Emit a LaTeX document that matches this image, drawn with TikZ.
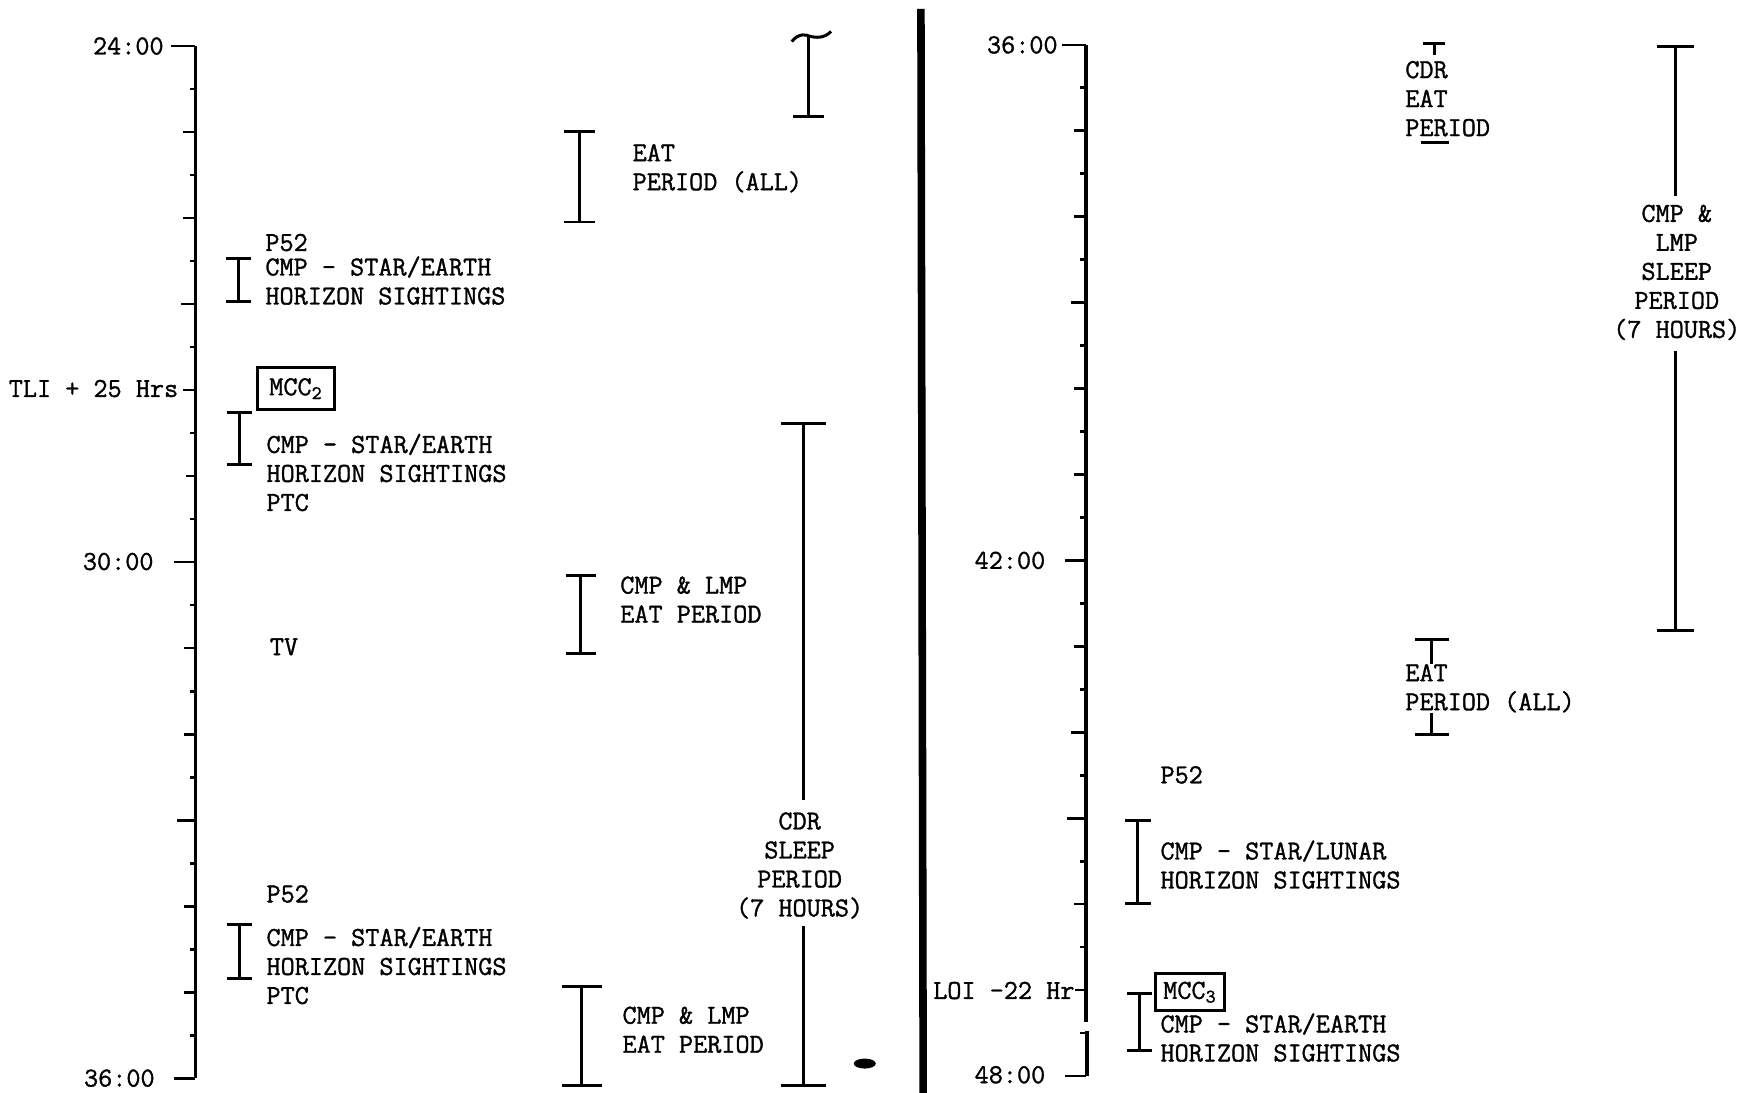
\documentclass[tikz,border=0pt]{standalone}
\usepackage{fontspec}
\setmonofont[FakeBold=1.2]{Latin Modern Mono}
\usetikzlibrary{arrows.meta}
\newcommand\twfont{\fontsize{15.6pt}{16.5pt}\selectfont\ttfamily}
\begin{document}
\begin{tikzpicture}[x=0.022462cm,y=-0.022462cm,
  lbl/.style={font=\twfont, inner sep=0pt},
  blk/.style={lbl, align=left, anchor=north west},
  ctr/.style={lbl, align=center, anchor=north},
  tim/.style={lbl, anchor=east},
  one/.style={lbl, anchor=west},
  axisline/.style={line width=1.9pt},
  tickline/.style={line width=1.6pt},
  ibar/.style={line width=1.7pt, {Bar[width=#1]}-{Bar[width=#1]}},
  ibar/.default=0.55cm,
  topbar/.style={line width=1.7pt, {Bar[width=#1]}-},
  botbar/.style={line width=1.7pt, -{Bar[width=#1]}},
  mccbox/.style={lbl, draw, line width=1.7pt}
]
\useasboundingbox (0,0) rectangle (1568,973);

% ---------- divider ----------
\coordinate (dv1) at (820,8);
\coordinate (dv2) at (822,973);
\draw[line width=4.3pt] (dv1) -- (dv2);

% ---------- left axis ----------
\coordinate (la0) at (174,41);
\coordinate (la1) at (174,960);
\draw[axisline] (la0) -- (la1);
\foreach \k/\l in {0/22,1/5,2/11,3/5,4/11,5/5,6/13,7/5,8/11,9/5,10/8,11/5,12/19,13/5,14/10,15/5,16/10,17/5,18/16,19/5,20/10,21/5,22/10,23/5,24/19}
  \draw[tickline] (174,41+38.29*\k) -- ++(-\l,0);

\node[tim] (l24) at (146,41) {24:00};
\node[tim] (ltli) at (159,346) {TLI + 25 Hrs};
\node[tim] (l30) at (137,500) {30:00};
\node[tim] (l36) at (138,960) {36:00};

% left column activities
\node[one] (p52a) at (236,216) {P52};
\node[blk] (t1) at (236,228) {CMP - STAR/EARTH\\HORIZON SIGHTINGS};
\coordinate (b1t) at (212,229); \coordinate (b1b) at (212,270);
\draw[ibar=0.5cm] (b1t) -- (b1b);

\node[mccbox, minimum width=1.55cm, minimum height=0.854cm] (mcc2) at (263.5,346) {MCC\textsubscript{2}};

\node[blk] (t2) at (237,386) {CMP - STAR/EARTH\\HORIZON SIGHTINGS\\PTC};
\coordinate (b2t) at (213,366); \coordinate (b2b) at (213,415);
\draw[ibar=0.5cm] (b2t) -- (b2b);

\node[one] (tv) at (240,576) {TV};

\node[one] (p52b) at (237,796) {P52};
\node[blk] (t3) at (237,825) {CMP - STAR/EARTH\\HORIZON SIGHTINGS\\PTC};
\coordinate (b3t) at (213,822); \coordinate (b3b) at (213,873);
\draw[ibar=0.5cm] (b3t) -- (b3b);

% middle column
\coordinate (b4t) at (720,32); \coordinate (b4b) at (720,105);
\draw[botbar=0.63cm] (b4t) -- (b4b);
\coordinate (w1) at (705,37); \coordinate (w2) at (740,28);
\draw[line width=1.7pt] (w1) .. controls (711,29) and (719,31) .. (b4t) .. controls (727,34) and (734,34) .. (w2);

\node[blk] (eat1) at (563,128) {EAT\\PERIOD (ALL)};
\coordinate (b5t) at (516,116); \coordinate (b5b) at (516,199);
\draw[ibar=0.63cm] (b5t) -- (b5b);

\node[blk] (cl1) at (552,513) {CMP \& LMP\\EAT PERIOD};
\coordinate (b7t) at (517,511); \coordinate (b7b) at (517,583);
\draw[ibar=0.6cm] (b7t) -- (b7b);

\node[ctr] (cdr) at (712,723) {CDR\\SLEEP\\PERIOD\\(7 HOURS)};
\coordinate (b6t) at (715,376); \coordinate (b6b) at (715,968);
\coordinate (c6a) at ([yshift=7pt]cdr.north);
\coordinate (c6b) at ([yshift=-4pt]cdr.south);
\draw[topbar=0.9cm] (b6t) -- (b6t |- c6a);
\draw[botbar=0.9cm] (b6b |- c6b) -- (b6b);

\node[blk] (cl2) at (554,896) {CMP \& LMP\\EAT PERIOD};
\coordinate (b8t) at (518,877); \coordinate (b8b) at (518,968);
\draw[ibar=0.8cm] (b8t) -- (b8b);

\coordinate (blob) at (770,947);
\fill (blob) ellipse [x radius=0.22cm, y radius=0.1cm];

% ---------- right axis ----------
\coordinate (ra0) at (967,40);
\coordinate (rag1) at (967,910);
\coordinate (rag2) at (968,918);
\coordinate (ra1) at (968,958);
\draw[axisline] (ra0) -- (rag1);
\draw[axisline] (rag2) -- (ra1);
\foreach \k/\l in {0/21,1/5,2/11,3/5,4/11,5/5,6/13,7/5,8/11,9/5,10/11,11/5,12/19,13/5,14/11,15/5,16/13,17/5,18/17,19/5,20/11,21/5,22/10,23/5,24/19}
  \draw[tickline] (967,40+38.25*\k) -- ++(-\l,0);

\node[tim] (r36) at (942,40) {36:00};
\node[tim] (r42) at (931,499) {42:00};
\node[tim] (r48) at (931,957) {48:00};
\node[tim] (rloi) at (957,882) {LOI -22 Hr};

% right column activities
\node[blk] (cdreat) at (1251,54) {CDR\\EAT\\PERIOD};
\coordinate (b9t) at (1277,37);
\coordinate (c9a) at ([yshift=3pt]cdreat.north);
\draw[topbar=0.43cm] (b9t) -- (b9t |- c9a);
\coordinate (b9a) at (1265,127); \coordinate (b9b) at (1290,127);
\draw[line width=1.7pt] (b9a) -- (b9b);

\node[ctr] (cls) at (1493,182) {CMP \&\\LMP\\SLEEP\\PERIOD\\(7 HOURS)};
\coordinate (b10t) at (1492,40); \coordinate (b10b) at (1492,563);
\coordinate (c10a) at ([yshift=5pt]cls.north);
\coordinate (c10b) at ([yshift=-6pt]cls.south);
\draw[topbar=0.74cm] (b10t) -- (b10t |- c10a);
\draw[botbar=0.74cm] (b10b |- c10b) -- (b10b);

\node[blk] (eat2) at (1251,591) {EAT\\PERIOD (ALL)};
\coordinate (b11t) at (1275,568); \coordinate (b11b) at (1275,655);
\draw[topbar=0.67cm] (b11t) -- (b11t |- eat2.north);
\draw[botbar=0.67cm] (b11b |- eat2.south) -- (b11b);

\node[one] (p52c) at (1033,690) {P52};
\node[blk] (lun) at (1033,748) {CMP - STAR/LUNAR\\HORIZON SIGHTINGS};
\coordinate (b12t) at (1013,729); \coordinate (b12b) at (1013,806);
\draw[ibar=0.52cm] (b12t) -- (b12b);

\node[mccbox, minimum width=1.37cm, minimum height=0.741cm] (mcc3) at (1059.5,883.5) {MCC\textsubscript{3}};

\node[blk] (ear) at (1033,902) {CMP - STAR/EARTH\\HORIZON SIGHTINGS};
\coordinate (b13t) at (1015,883); \coordinate (b13b) at (1015,937);
\draw[ibar=0.5cm] (b13t) -- (b13b);

\end{tikzpicture}
\end{document}
